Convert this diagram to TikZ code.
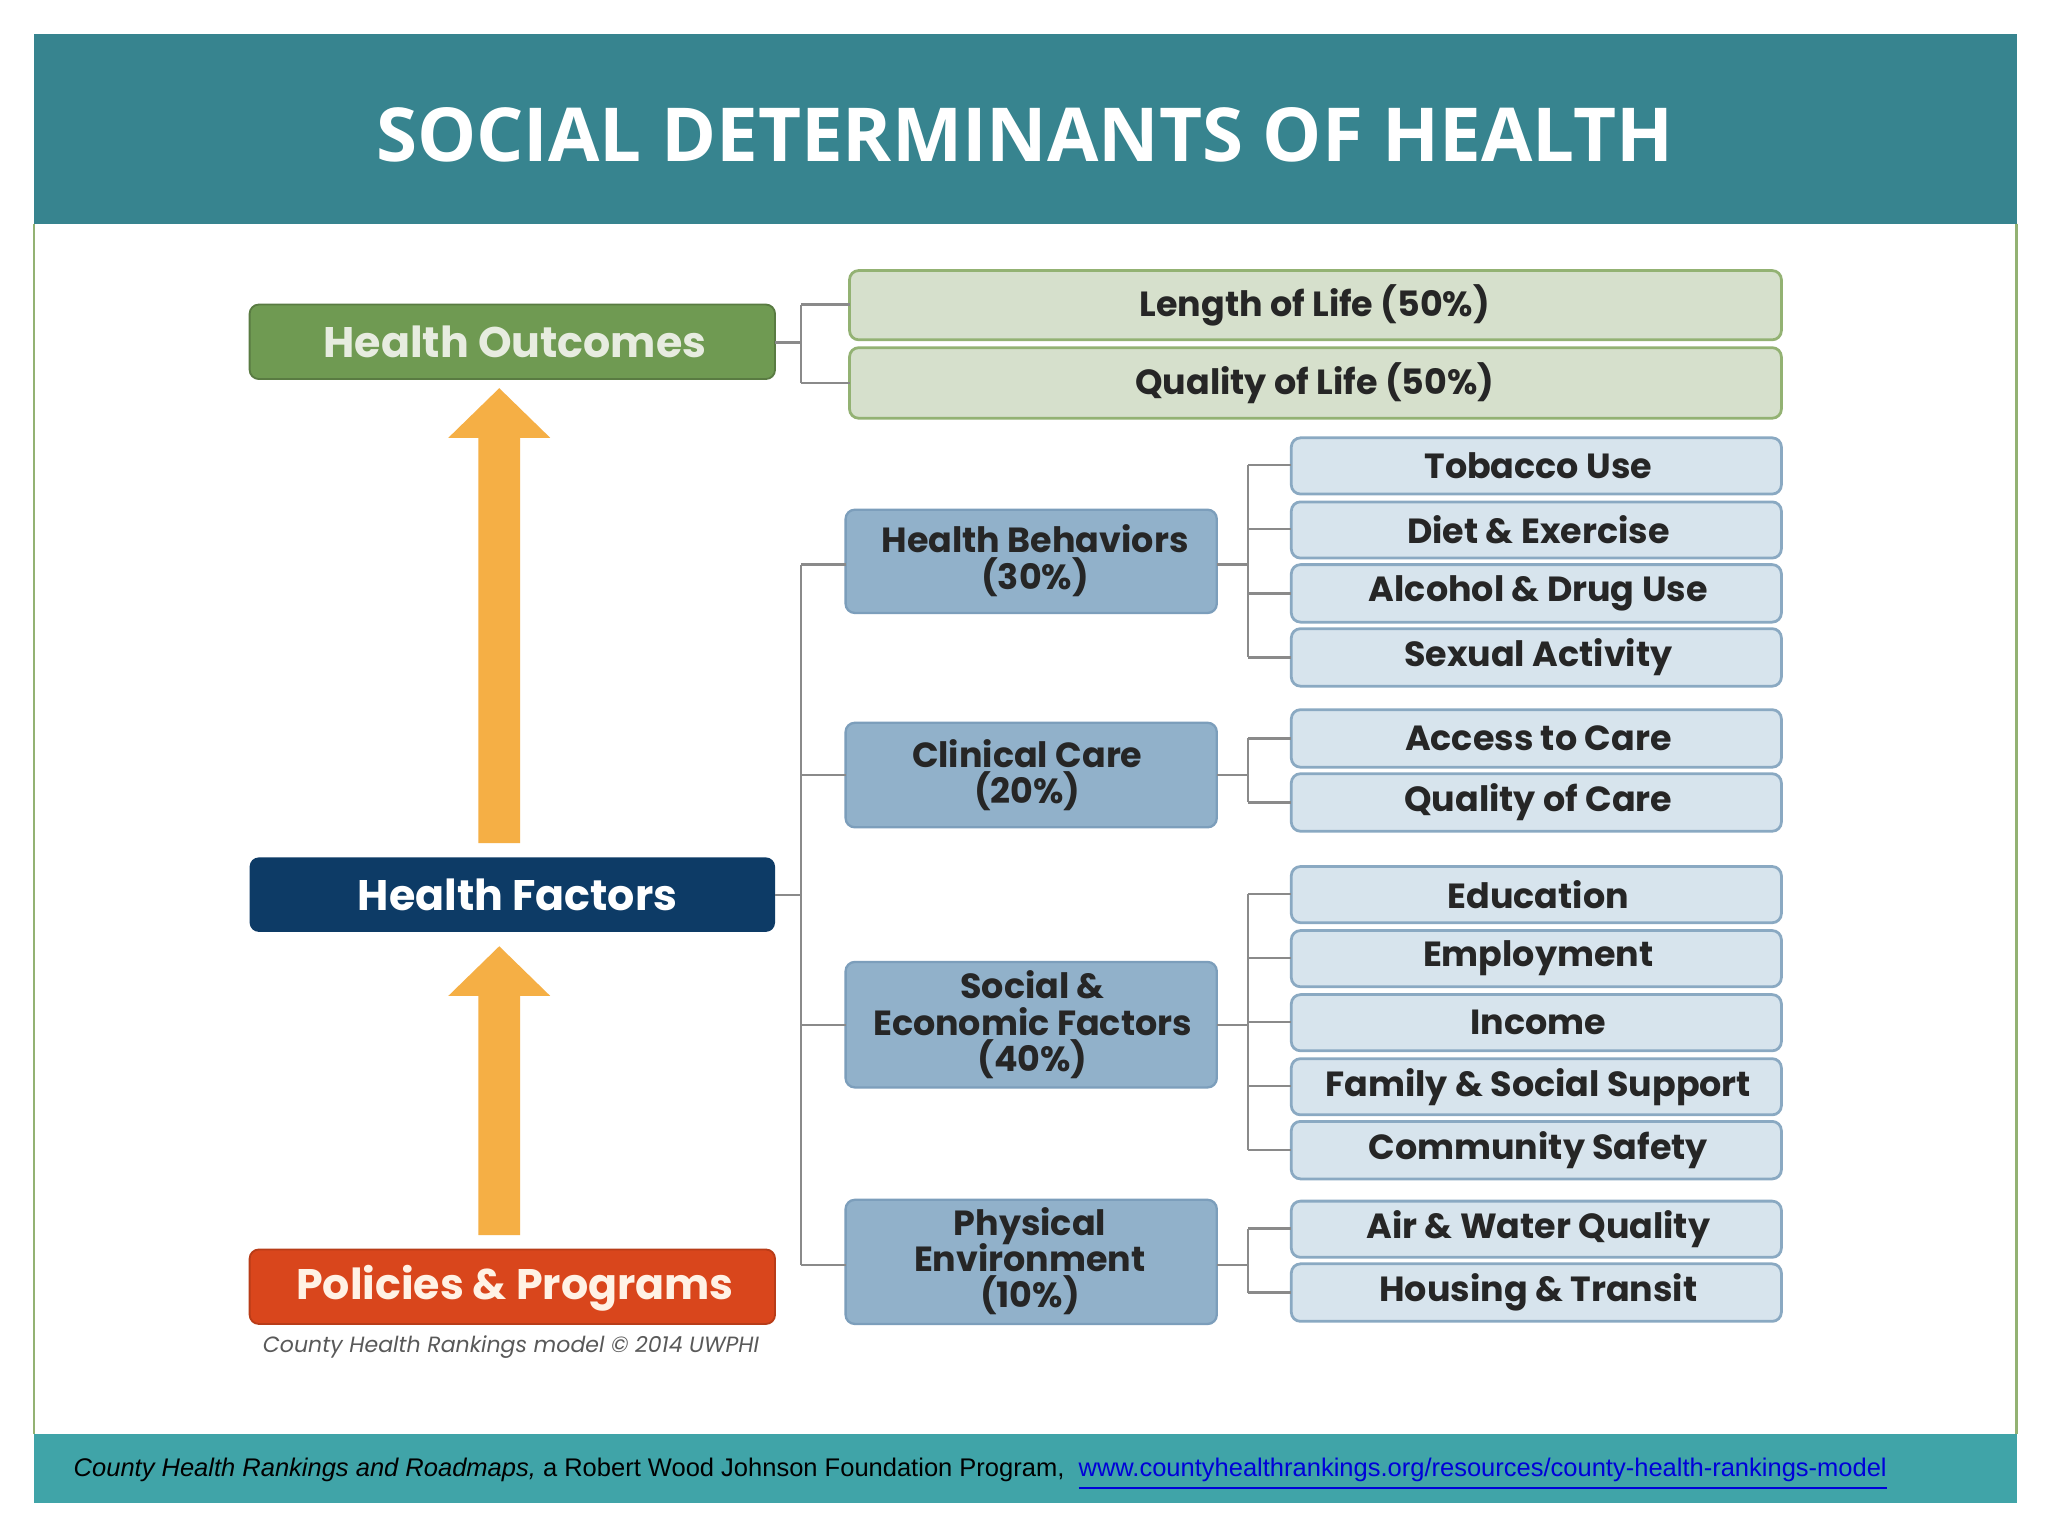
\documentclass[tikz,border=0pt]{standalone}
\usepackage{fontspec}
\setmainfont{Poppins}
\newfontfamily\titlefont{Open Sans}
\newfontfamily\footfont{Liberation Sans}
\usepackage{xcolor}
\definecolor{teal1}{HTML}{37848F}
\definecolor{teal2}{HTML}{40A4A8}
\definecolor{hogreen}{HTML}{6F9A52}
\definecolor{lgreen}{HTML}{D6E0CC}
\definecolor{lgreenb}{HTML}{93B273}
\definecolor{hfblue}{HTML}{0D3B66}
\definecolor{ppred}{HTML}{D9461C}
\definecolor{midblue}{HTML}{91B1CA}
\definecolor{midblueb}{HTML}{7C9EBB}
\definecolor{lblue}{HTML}{D7E4ED}
\definecolor{lblueb}{HTML}{8AA9C2}
\definecolor{orangeA}{HTML}{F5AF45}
\definecolor{linec}{HTML}{8A8A8A}
\newcommand\mytightls{\lineskiplimit=-20pt\relax}
\begin{document}
\begin{tikzpicture}[x=0.01cm,y=-0.01cm,
  big/.style={rounded corners=2pt},
  outbox/.style={draw=lgreenb,fill=lgreen,rounded corners=2pt,line width=0.6pt},
  midbox/.style={draw=midblueb,fill=midblue,rounded corners=2pt,line width=0.5pt},
  midtxt/.style={font={\bfseries\fontsize{7.6}{7.9}\selectfont\mytightls},text=black!85,align=center},
  leafbox/.style={draw=lblueb,fill=lblue,rounded corners=2pt,line width=0.6pt},
  ltxt/.style={font=\bfseries\fontsize{7.6}{8}\selectfont,text=black!85},
  bigtxt/.style={font=\bfseries\fontsize{9.3}{10}\selectfont},
  conn/.style={draw=linec,line width=0.5pt}]
\useasboundingbox (0,0) rectangle (1567,1175);
\fill[white] (0,0) rectangle (1567,1175);
% frame
\draw[lgreenb,line width=0.6pt] (26,171) -- (26,1097) (1543,171) -- (1543,1097);
\fill[teal1] (26,26) rectangle (1543,171);
\node[text=white,font=\titlefont\bfseries\fontsize{16.2}{18}\selectfont] (title) at (784,103) {SOCIAL DETERMINANTS OF HEALTH};
\fill[teal2] (26,1097) rectangle (1543,1150);
\node[font=\footfont\fontsize{5.55}{6}\selectfont,anchor=west] (foot) at (44,1128) {\textit{County Health Rankings and Roadmaps,} a Robert Wood Johnson Foundation Program,\ \ \textcolor{blue!85!black}{\underline{www.countyhealthrankings.org/resources/county-health-rankings-model}}};
% left boxes
\path[big,fill=hogreen,draw=hogreen!80!black] (191,233) rectangle (593,290);
\node[bigtxt,text=lgreen!60!white] (ho) at (394,261.5) {Health Outcomes};
\path[big,fill=hfblue] (191,656) rectangle (593,713);
\node[bigtxt,text=white] (hf) at (396,684.5) {Health Factors};
\path[big,fill=ppred,draw=ppred!85!black] (191,956) rectangle (593,1013);
\node[bigtxt,text=white!90!orange] (pp) at (394,986) {Policies \& Programs};
\node[font=\itshape\fontsize{4.8}{6}\selectfont,text=black!65] (cap) at (391,1031) {County Health Rankings model \textcopyright\ 2014 UWPHI};
% arrows
\fill[orangeA] (366,645) -- (366,335) -- (343,335) -- (382,297) -- (421,335) -- (398,335) -- (398,645) -- cycle;
\fill[orangeA] (366,945) -- (366,762) -- (343,762) -- (382,724) -- (421,762) -- (398,762) -- (398,945) -- cycle;
% outcomes
\path[outbox] (650,207) rectangle (1363,260);
\path[outbox] (650,266) rectangle (1363,320);
\node[ltxt] (lol) at (1006,234) {Length of Life (50\%)};
\node[ltxt] (qol) at (1006,293) {Quality of Life (50\%)};
\draw[conn] (593,262) -- (613,262) (613,233) -- (613,293) (613,233) -- (650,233) (613,293) -- (650,293);
% mid
\path[midbox] (647,390) rectangle (931,469);
\node[midtxt] (hb) at (792,429) {Health Behaviors\\(30\%)};
\path[midbox] (647,553) rectangle (931,633);
\node[midtxt] (cc) at (786,593) {Clinical Care\\(20\%)};
\path[midbox] (647,736) rectangle (931,832);
\node[midtxt] (se) at (790,784) {Social \&\\Economic Factors\\(40\%)};
\path[midbox] (647,918) rectangle (931,1013);
\node[midtxt] (pe) at (788,965) {Physical\\Environment\\(10\%)};
\draw[conn] (593,685) -- (613,685) (613,432) -- (613,968)
  (613,432) -- (647,432) (613,593) -- (647,593) (613,784) -- (647,784) (613,968) -- (647,968);
% leaves
\foreach \t/\a/\b/\lab in {335/378/tob/Tobacco Use,384/427/die/Diet \& Exercise,432/476/alc/Alcohol \& Drug Use,481/525/sex/Sexual Activity,
 543/587/acc/Access to Care,592/636/qoc/Quality of Care,663/706/edu/Education,712/755/emp/Employment,761/804/inc/Income,810/853/fam/Family \& Social Support,858/902/com/Community Safety,919/962/air/Air \& Water Quality,967/1011/hou/Housing \& Transit}{
  \path[leafbox] (988,\t) rectangle (1363,\a);
  \node[ltxt] (\b) at (1177,{(\t+\a)/2}) {\lab};
}
\draw[conn] (931,432) -- (955,432) (955,356) -- (955,503);
\foreach \y in {356,405,454,503} \draw[conn] (955,\y) -- (988,\y);
\draw[conn] (931,593) -- (955,593) (955,565) -- (955,614);
\foreach \y in {565,614} \draw[conn] (955,\y) -- (988,\y);
\draw[conn] (931,784) -- (955,784) (955,684) -- (955,880);
\foreach \y in {684,733,782,831,880} \draw[conn] (955,\y) -- (988,\y);
\draw[conn] (931,968) -- (955,968) (955,940) -- (955,989);
\foreach \y in {940,989} \draw[conn] (955,\y) -- (988,\y);
\end{tikzpicture}
\end{document}
